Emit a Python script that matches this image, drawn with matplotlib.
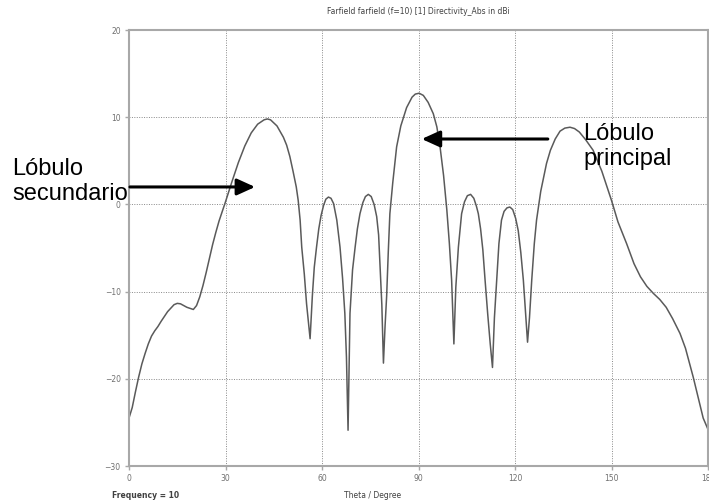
import matplotlib
matplotlib.use("Agg")
import matplotlib.pyplot as plt

# Data (theta in degrees, directivity in dBi)
theta = [0, 1, 2, 3, 4, 5, 6, 7, 8, 9, 10, 12, 14, 15, 16, 18, 20, 21, 22, 23, 24, 25, 26, 27, 28, 29, 30,
         32, 34, 36, 38, 40, 42, 43, 44, 46, 48, 49, 50, 51, 52, 52.6, 53.2, 53.7, 54.5, 55.2, 56.3,
         57, 57.6, 58.3, 59, 59.7, 60.5, 61.2, 62, 62.8, 63.6, 64.6, 65.6, 66.4, 67.1, 67.6, 68.1,
         68.7, 69.5, 70.3, 71, 71.8, 72.7, 73.5, 74.4, 75.3, 76.2, 77, 77.6, 78, 78.6, 79.1,
         79.6, 80.1, 80.6, 81.1, 82, 83.2, 84.5, 86.3, 88, 89, 90.2, 91.5, 93, 94.6, 95.7, 96.7, 97.8,
         98.8, 99.6, 100.3, 101,
         101.6, 102.4, 103.4, 104.3, 105.2, 106.2, 107.2, 108, 108.6, 109.3, 110, 110.7, 111.5, 112.3, 113,
         113.6, 114.3, 115, 115.8, 116.6, 117.5, 118.4, 119.3, 120.2, 121, 121.8, 122.6, 123.3, 123.9,
         124.5, 125.2, 126, 126.7, 128, 129.8, 131, 132.5, 134, 135.5, 137.1, 138.5, 140, 142, 144.3,
         147, 150, 152, 154.7, 157, 159, 161, 163, 165, 167, 169, 171.3, 173, 175.4, 177, 178.5, 180]
directivity = [-24.5, -23.3, -21.5, -19.8, -18.3, -17.1, -16.0, -15.1, -14.5, -14.0, -13.4, -12.3, -11.5,
               -11.35, -11.4, -11.8, -12.05, -11.6, -10.6, -9.3, -7.8, -6.2, -4.6, -3.2, -1.9, -0.8, 0.3,
               2.6, 4.8, 6.7, 8.2, 9.2, 9.7, 9.8, 9.7, 9.0, 7.7, 6.8, 5.5, 3.8, 2.0, 0.46, -1.8, -4.9, -8.0,
               -11.4, -15.4,
               -10.5, -7.2, -4.9, -2.8, -1.3, -0.1, 0.6, 0.84, 0.7, 0.1, -1.8, -4.9, -8.5, -12.5, -17.5, -25.9,
               -12.5, -7.5, -4.9, -2.8, -1.07, 0.2, 0.9, 1.15, 0.9, 0.0, -1.4, -3.5, -6.8, -11.5, -18.2,
               -14.0, -10.5, -5.5, -1.07, 2.5, 6.6, 9.0, 11.1, 12.3, 12.65, 12.75, 12.5, 11.7, 10.4, 8.9, 6.6,
               3.3, -0.6, -4.5, -8.7, -16.0,
               -9.5, -4.9, -1.07, 0.3, 1.0, 1.15, 0.7, -0.2, -1.07, -2.8, -5.2, -8.7, -12.5, -16.0, -18.7,
               -13.0, -8.7, -4.5, -1.8, -0.8, -0.4, -0.3, -0.6, -1.6, -3.0, -5.5, -8.7, -12.5, -15.8,
               -13.0, -8.7, -4.5, -1.8, 1.5, 4.7, 6.2, 7.5, 8.4, 8.75, 8.85, 8.7, 8.3, 7.4, 6.2,
               3.8, 0.46, -2.0, -4.5, -6.8, -8.3, -9.4, -10.2, -10.9, -11.8, -13.1, -14.8, -16.5, -19.8,
               -22.2, -24.5, -25.8]
x_ticks = [0, 30, 60, 90, 120, 150, 180]
y_ticks = [-30, -20, -10, 0, 10, 20]

W, H = 709, 503
fig = plt.figure(figsize=(W / 100, H / 100), dpi=100)
ax = fig.add_axes([129 / W, (H - 466) / H, 579 / W, 436 / H])

ax.plot(theta, directivity, color="#5a5a5a", lw=1.1, solid_joinstyle="round")
ax.set_xlim(0, 180)
ax.set_ylim(-30, 20)
ax.set_xticks(x_ticks)
ax.set_yticks(y_ticks)
ax.grid(True, color="#888888", linestyle=(0, (1, 1.5)), lw=0.7)
for s in ax.spines.values():
    s.set_color("#a8a8a8")
    s.set_linewidth(1.5)
ax.tick_params(axis="both", labelsize=5.5, labelcolor="#707070", color="#a8a8a8",
               length=3, width=1, pad=3)

fig.text(418 / W, 1 - 11 / H, "Farfield farfield (f=10) [1] Directivity_Abs in dBi",
         ha="center", va="center", fontsize=5.5, color="#404040")
fig.text(112 / W, 1 - 496 / H, "Frequency = 10", ha="left", va="center",
         fontsize=5.5, fontweight="bold", color="#404040")
fig.text(373 / W, 1 - 496 / H, "Theta / Degree", ha="center", va="center",
         fontsize=5.5, color="#404040")

lab = dict(fontsize=17, family="Liberation Sans", color="black", linespacing=1.2)
fig.text(12 / W, 1 - 200 / H, "Lóbulo\nsecundario", ha="left", va="baseline", **lab)
fig.text(583 / W, 1 - 165 / H, "Lóbulo\nprincipal", ha="left", va="baseline", **lab)

arrow = dict(arrowstyle="-|>,head_length=1.1,head_width=0.5", color="black", lw=2.2,
             shrinkA=0, shrinkB=0)
ax.annotate("", xy=(39.2, 2.0), xytext=(0.3, 2.0), arrowprops=arrow, annotation_clip=False)
ax.annotate("", xy=(91.0, 7.5), xytext=(130.2, 7.5), arrowprops=arrow, annotation_clip=False)

fig.savefig("out.png", dpi=100)
